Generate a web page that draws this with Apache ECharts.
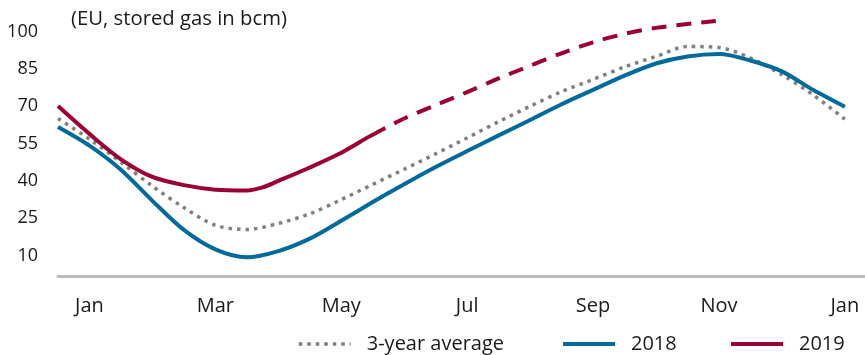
<!DOCTYPE html>
<html>
<head>
<meta charset="utf-8">
<script src="https://cdn.jsdelivr.net/npm/echarts@6/dist/echarts.min.js"></script>
<style>
  html, body { margin: 0; padding: 0; background: #fff; }
  #chart { width: 865px; height: 355px; }
</style>
</head>
<body>
<div id="chart"></div>
<script>
// Month positions: 0 = Jan, 12 = the following Jan; series start half a month earlier
const monthGrid = [-0.5, 0, 0.5, 1, 1.5, 2, 2.5, 3, 3.5, 4, 4.5, 5, 5.5,
                   6, 6.5, 7, 7.5, 8, 8.5, 9, 9.5, 10, 10.5, 11, 11.5, 12];
const monthLabels = ['Jan', 'Feb', 'Mar', 'Apr', 'May', 'Jun', 'Jul',
                     'Aug', 'Sep', 'Oct', 'Nov', 'Dec', 'Jan'];
const labelMonths = [0, 2, 4, 6, 8, 10, 12];
const yTicks = [10, 25, 40, 55, 70, 85, 100];

// Stored gas, bcm
const avgValues = [65.1, 56.8, 47.5, 37.9, 29.3, 22.2, 20.5, 22.9, 26.8, 32.5, 38.6, 44.7, 50.9,
                   57.3, 63.8, 70.0, 75.9, 80.8, 85.8, 90.0, 94.0, 93.6, 89.4, 82.7, 74.5, 64.8];
const values2018 = [61.7, 54.2, 44.5, 32.0, 20.3, 12.5, 9.3, 11.8, 16.8, 24.0, 31.5, 38.7, 45.6,
                    52.0, 58.3, 64.5, 70.8, 76.6, 82.3, 87.2, 90.0, 91.0, 88.4, 84.0, 76.5, 69.8];
const months2019 = [-0.5, 0, 0.5, 1, 1.5, 2, 2.5, 2.75, 3, 3.5, 4, 4.45, 4.7];
const values2019 = [70.1, 58.9, 48.7, 41.6, 38.3, 36.5, 36.2, 37.4, 40.0, 45.4, 51.3, 57.9, 61.3];
const monthsOutlook2019 = [4.7, 5, 5.5, 6, 6.5, 7, 7.5, 8, 8.5, 9, 9.5, 9.95];
const valuesOutlook2019 = [61.3, 65.1, 70.5, 75.7, 81.2, 86.3, 91.3, 95.7, 99.1, 101.5, 103.1, 104.3];

const pairs = (xs, ys) => xs.map((x, i) => [x, ys[i]]);

const FONT = "'Open Sans', 'Noto Sans', sans-serif";
const TEXT = '#1a1a1a';
const GREY = '#808080';
const BLUE = '#006a9a';
const RED = '#9b0035';

const legendBase = {
  orient: 'horizontal',
  top: 334,
  itemWidth: 52,
  itemHeight: 20,
  padding: 0,
  selectedMode: false,
  itemStyle: { opacity: 0 },
  textStyle: { fontFamily: FONT, fontSize: 20, color: TEXT, padding: [0, 0, 0, 11] }
};

const chart = echarts.init(document.getElementById('chart'), null, { renderer: 'canvas' });
chart.setOption({
  animation: false,
  backgroundColor: '#ffffff',
  title: {
    text: '(EU, stored gas in bcm)',
    left: 71,
    top: 9,
    padding: 0,
    textStyle: { fontFamily: FONT, fontSize: 20.3, fontWeight: 'normal', color: TEXT }
  },
  legend: [
    Object.assign({}, legendBase, { left: 297, data: ['3-year average'],
      lineStyle: { width: 3.5 } }),
    Object.assign({}, legendBase, { left: 561, data: ['2018'], lineStyle: { width: 4 } }),
    Object.assign({}, legendBase, { left: 729, data: ['2019'], lineStyle: { width: 4 } })
  ],
  grid: { left: 58, right: 0, top: 0, bottom: 79, containLabel: false, outerBoundsMode: 'none' },
  xAxis: {
    type: 'value',
    min: -0.5,
    max: 12.32,
    axisLine: { show: true, lineStyle: { color: '#bbbbbb', width: 3 } },
    axisTick: { show: false },
    splitLine: { show: false },
    axisLabel: {
      customValues: labelMonths,
      formatter: v => monthLabels[Math.round(v)],
      fontFamily: FONT, fontSize: 20, color: TEXT, margin: 20
    }
  },
  yAxis: {
    type: 'value',
    min: 1.8,
    max: 112.7,
    axisLine: { show: false },
    axisTick: { show: false },
    splitLine: { show: false },
    axisLabel: {
      customValues: yTicks,
      fontFamily: FONT, fontSize: 18, color: TEXT, margin: 20
    }
  },
  series: [
    {
      name: '3-year average', type: 'line', data: pairs(monthGrid, avgValues),
      smooth: 0.3, symbol: 'none', clip: false,
      lineStyle: { color: GREY, width: 3.5, type: [3.5, 5], cap: 'butt' },
      itemStyle: { color: GREY }
    },
    {
      name: '2018', type: 'line', data: pairs(monthGrid, values2018),
      smooth: 0.3, symbol: 'none', clip: false,
      lineStyle: { color: BLUE, width: 4 }, itemStyle: { color: BLUE }
    },
    {
      name: '2019', type: 'line', data: pairs(months2019, values2019),
      smooth: 0.3, symbol: 'none', clip: false,
      lineStyle: { color: RED, width: 4 }, itemStyle: { color: RED }
    },
    {
      name: '2019', type: 'line', data: pairs(monthsOutlook2019, valuesOutlook2019),
      smooth: 0.3, symbol: 'none', clip: false,
      lineStyle: { color: RED, width: 4, type: [15, 10], dashOffset: 15, cap: 'butt' },
      itemStyle: { color: RED }
    }
  ]
});
</script>
</body>
</html>
